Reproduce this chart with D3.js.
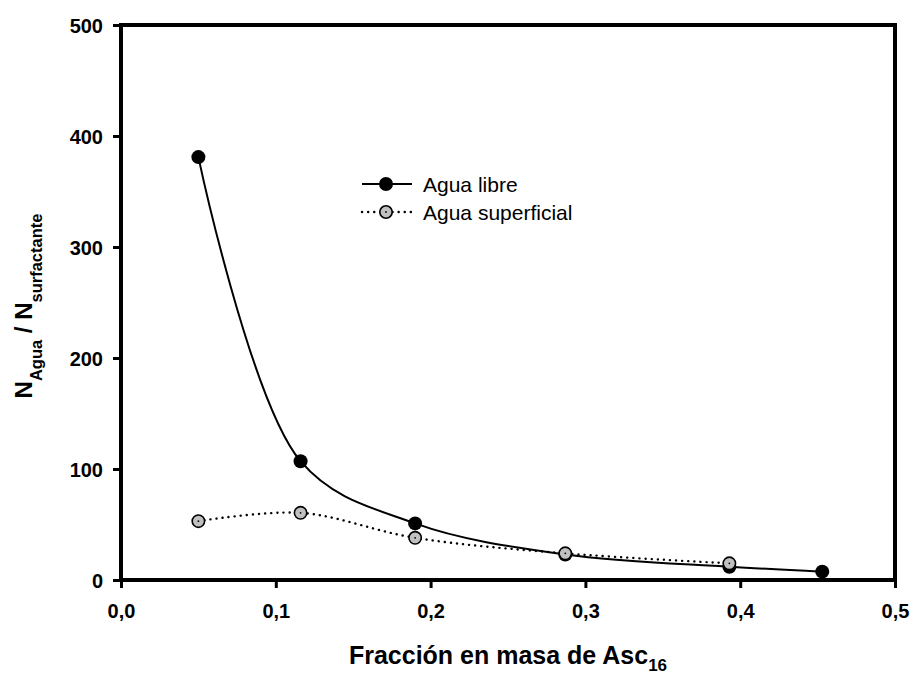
<!DOCTYPE html>
<html>
<head>
<meta charset="utf-8">
<script src="https://cdn.jsdelivr.net/npm/d3@7"></script>
<style>
  body { margin: 0; background: #fff; }
  svg { display: block; font-family: Arial, "Liberation Sans", sans-serif; }
</style>
</head>
<body>
<svg id="chart" width="913" height="677"></svg>
<script>
// Mass fraction of Asc16
const fraccion = [0.05, 0.116, 0.19, 0.287, 0.393, 0.453];
// Water molecules per surfactant molecule
const aguaLibre = [381, 107, 51, 23, 12, 7.5];
const fraccionSup = [0.05, 0.116, 0.19, 0.287, 0.393];
const aguaSuperficial = [53, 60.5, 38, 24, 15];

const xTicks = [0, 0.1, 0.2, 0.3, 0.4, 0.5];
const yTicks = [0, 100, 200, 300, 400, 500];

const svg = d3.select("#chart");
const plotLeft = 121, plotRight = 895, plotTop = 25, plotBottom = 580;

const x = d3.scaleLinear().domain([0, 0.5]).range([plotLeft, plotRight]);
const y = d3.scaleLinear().domain([0, 500]).range([plotBottom, plotTop]);

const fmt = d => d3.format(".1f")(d).replace(".", ",");

// Axes with outward ticks
const xAxis = svg.append("g").attr("transform", `translate(0,${plotBottom})`)
  .call(d3.axisBottom(x).tickValues(xTicks).tickFormat(fmt).tickSize(8).tickPadding(16));
const yAxis = svg.append("g").attr("transform", `translate(${plotLeft},0)`)
  .call(d3.axisLeft(y).tickValues(yTicks).tickSize(8).tickPadding(10));
[xAxis, yAxis].forEach(g => {
  g.select(".domain").remove();
  g.selectAll(".tick line").attr("stroke", "#000").attr("stroke-width", 3);
  g.selectAll(".tick text").attr("fill", "#000").attr("font-size", 20)
    .attr("font-weight", "bold").attr("font-family", "Arial, 'Liberation Sans', sans-serif");
});
yAxis.selectAll(".tick text").attr("dy", "0.36em");

// Frame
svg.append("rect").attr("x", plotLeft).attr("y", plotTop)
  .attr("width", plotRight - plotLeft).attr("height", plotBottom - plotTop)
  .attr("fill", "none").attr("stroke", "#000").attr("stroke-width", 4);

const line = d3.line().curve(d3.curveCatmullRom.alpha(0.5))
  .x(d => x(d[0])).y(d => y(d[1]));

const libre = fraccion.map((f, i) => [f, aguaLibre[i]]);
const sup = fraccionSup.map((f, i) => [f, aguaSuperficial[i]]);

svg.append("path").datum(libre).attr("d", line)
  .attr("fill", "none").attr("stroke", "#000").attr("stroke-width", 2);
svg.append("path").datum(sup).attr("d", line)
  .attr("fill", "none").attr("stroke", "#000").attr("stroke-width", 2.4)
  .attr("stroke-dasharray", "0.1 6").attr("stroke-linecap", "round");

svg.selectAll(".pl").data(libre).enter().append("circle")
  .attr("cx", d => x(d[0])).attr("cy", d => y(d[1])).attr("r", 7)
  .attr("fill", "#000");
svg.selectAll(".ps").data(sup).enter().append("circle")
  .attr("cx", d => x(d[0])).attr("cy", d => y(d[1])).attr("r", 6.2)
  .attr("fill", "#c0c0c0").attr("stroke", "#000").attr("stroke-width", 1.6);
svg.selectAll(".pd").data(sup).enter().append("circle")
  .attr("cx", d => x(d[0])).attr("cy", d => y(d[1])).attr("r", 0.9)
  .attr("fill", "#000");

// Legend
const leg = svg.append("g").attr("font-size", 21);
leg.append("line").attr("x1", 362).attr("x2", 412).attr("y1", 184).attr("y2", 184)
  .attr("stroke", "#000").attr("stroke-width", 2);
leg.append("circle").attr("cx", 386).attr("cy", 184).attr("r", 7).attr("fill", "#000");
leg.append("text").attr("x", 423).attr("y", 191.5).text("Agua libre");
leg.append("line").attr("x1", 362).attr("x2", 412).attr("y1", 212).attr("y2", 212)
  .attr("stroke", "#000").attr("stroke-width", 2.4)
  .attr("stroke-dasharray", "0.1 6").attr("stroke-linecap", "round");
leg.append("circle").attr("cx", 386).attr("cy", 212).attr("r", 6.2)
  .attr("fill", "#c0c0c0").attr("stroke", "#000").attr("stroke-width", 1.6);
leg.append("circle").attr("cx", 386).attr("cy", 212).attr("r", 0.9).attr("fill", "#000");
leg.append("text").attr("x", 423).attr("y", 219.5).text("Agua superficial");

// Axis titles
const xt = svg.append("text").attr("x", 508).attr("y", 664)
  .attr("text-anchor", "middle").attr("font-size", 25).attr("font-weight", "bold");
xt.append("tspan").text("Fracción en masa de Asc");
xt.append("tspan").attr("font-size", 17).attr("dy", 7).text("16");

const yt = svg.append("text")
  .attr("transform", "translate(32,306) rotate(-90)")
  .attr("text-anchor", "middle").attr("font-size", 24).attr("font-weight", "bold");
yt.append("tspan").text("N");
yt.append("tspan").attr("font-size", 16.5).attr("dy", 10).text("Agua");
yt.append("tspan").attr("dy", -10).text(" / N");
yt.append("tspan").attr("font-size", 16.5).attr("dy", 10).text("surfactante");
</script>
</body>
</html>
